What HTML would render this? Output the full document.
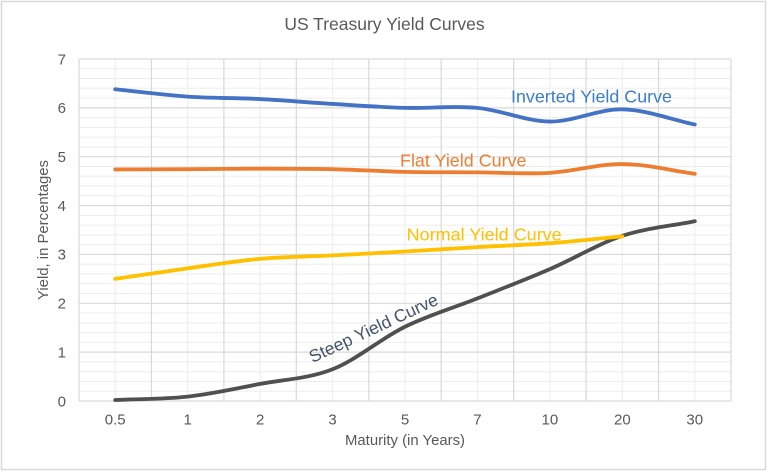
<!DOCTYPE html>
<html>
<head>
<meta charset="utf-8">
<style>
html,body{margin:0;padding:0;background:#fff;}
svg{display:block;}
text{font-family:"Liberation Sans",Arial,sans-serif;}
</style>
</head>
<body>
<svg width="768" height="472" viewBox="0 0 768 472" xmlns="http://www.w3.org/2000/svg">
<rect x="0" y="0" width="768" height="472" fill="#ffffff"/>
<rect x="1.5" y="1.5" width="764" height="468" fill="none" stroke="#d9d9d9" stroke-width="1.5"/>

<text x="384.5" y="30" font-size="17.5" fill="#595959" text-anchor="middle">US Treasury Yield Curves</text>

<!-- minor horizontal gridlines -->
<g stroke="#ededed" stroke-width="1" fill="none">
<path d="M79,391.23H731M79,381.46H731M79,371.69H731M79,361.91H731
M79,342.37H731M79,332.60H731M79,322.83H731M79,313.06H731
M79,293.51H731M79,283.74H731M79,273.97H731M79,264.20H731
M79,244.66H731M79,234.89H731M79,225.11H731M79,215.34H731
M79,195.80H731M79,186.03H731M79,176.26H731M79,166.49H731
M79,146.94H731M79,137.17H731M79,127.40H731M79,117.63H731
M79,98.09H731M79,88.31H731M79,78.54H731M79,68.77H731"/>
<path d="M115.22,59V401M187.67,59V401M260.11,59V401M332.56,59V401M405,59V401M477.44,59V401M549.89,59V401M622.33,59V401M694.78,59V401"/>
</g>
<!-- major gridlines -->
<g stroke="#d9d9d9" stroke-width="1.2" fill="none">
<path d="M79,352.14H731M79,303.29H731M79,254.43H731M79,205.57H731M79,156.71H731M79,107.86H731M79,59H731"/>
<path d="M79,59V401M151.44,59V401M223.89,59V401M296.33,59V401M368.78,59V401M441.22,59V401M513.67,59V401M586.11,59V401M658.56,59V401M731,59V401"/>
<path d="M79,401H731"/>
</g>

<!-- series -->
<g fill="none" stroke-width="3.8" stroke-linecap="round" stroke-linejoin="round">
<path stroke="#ED7D31" d="M115.22,169.42
C139.37,169.34 163.52,169.29 187.67,169.17
C211.82,169.05 235.96,168.68 260.11,168.68
C284.26,168.68 308.41,168.64 332.56,169.17
C356.71,169.70 380.85,171.33 405,171.86
C429.15,172.39 453.29,172.19 477.44,172.35
C501.59,172.51 525.74,174.23 549.89,172.84
C574.04,171.45 598.18,163.88 622.33,164.04
C646.48,164.20 670.63,170.55 694.78,173.81"/>
<path stroke="#4472C4" d="M115.22,89.29
C139.37,91.73 163.52,94.99 187.67,96.62
C211.82,98.25 235.96,97.84 260.11,99.06
C284.26,100.28 308.41,102.48 332.56,103.95
C356.71,105.42 380.85,107.21 405,107.86
C429.15,108.51 453.29,105.58 477.44,107.86
C501.59,110.14 525.74,121.30 549.89,121.54
C574.04,121.78 598.18,108.83 622.33,109.32
C646.48,109.81 670.63,119.42 694.78,124.47"/>
<path stroke="#505050" d="M115.22,400.02
C139.37,398.88 163.52,399.29 187.67,396.60
C211.82,393.91 235.96,388.46 260.11,383.90
C284.26,379.34 308.41,378.77 332.56,369.24
C356.71,359.71 380.85,338.55 405,326.74
C429.15,314.93 453.29,308.01 477.44,298.40
C501.59,288.79 525.74,279.51 549.89,269.09
C574.04,258.67 598.18,243.84 622.33,235.86
C646.48,227.88 670.63,226.09 694.78,221.21"/>
<path stroke="#FFC000" d="M115.22,278.86
C139.37,275.36 163.52,271.69 187.67,268.35
C211.82,265.01 235.96,260.99 260.11,258.83
C284.26,256.67 308.41,256.63 332.56,255.41
C356.71,254.19 380.85,252.89 405,251.50
C429.15,250.11 453.29,248.49 477.44,247.10
C501.59,245.71 525.74,244.98 549.89,243.19
C574.04,241.40 598.18,238.63 622.33,236.35"/>
</g>

<!-- series labels -->
<text x="511" y="102.7" font-size="17.5" fill="#3a7dcc" textLength="161" lengthAdjust="spacingAndGlyphs">Inverted Yield Curve</text>
<text x="400" y="166.7" font-size="17.5" fill="#ED7D31" textLength="126.5" lengthAdjust="spacingAndGlyphs">Flat Yield Curve</text>
<text x="406.7" y="240.6" font-size="17.5" fill="#FFC000" textLength="155" lengthAdjust="spacingAndGlyphs">Normal Yield Curve</text>
<text x="0" y="0" font-size="17.5" fill="#44546A" text-anchor="middle" transform="translate(376,333.5) rotate(-25)">Steep Yield Curve</text>

<!-- y tick labels -->
<g font-size="15" fill="#595959" text-anchor="end">
<text x="66" y="406.3">0</text>
<text x="66" y="357.4">1</text>
<text x="66" y="308.6">2</text>
<text x="66" y="259.7">3</text>
<text x="66" y="210.9">4</text>
<text x="66" y="162">5</text>
<text x="66" y="113.2">6</text>
<text x="66" y="64.3">7</text>
</g>

<!-- x tick labels -->
<g font-size="15" fill="#595959" text-anchor="middle">
<text x="115.22" y="424.6">0.5</text>
<text x="187.67" y="424.6">1</text>
<text x="260.11" y="424.6">2</text>
<text x="332.56" y="424.6">3</text>
<text x="405" y="424.6">5</text>
<text x="477.44" y="424.6">7</text>
<text x="549.89" y="424.6">10</text>
<text x="622.33" y="424.6">20</text>
<text x="694.78" y="424.6">30</text>
</g>

<text x="405" y="445" font-size="14.5" fill="#595959" text-anchor="middle" textLength="120" lengthAdjust="spacingAndGlyphs">Maturity (in Years)</text>
<text x="0" y="0" font-size="14.5" fill="#595959" text-anchor="middle" transform="translate(48,230) rotate(-90)" textLength="140" lengthAdjust="spacingAndGlyphs">Yield, in Percentages</text>
</svg>
</body>
</html>
